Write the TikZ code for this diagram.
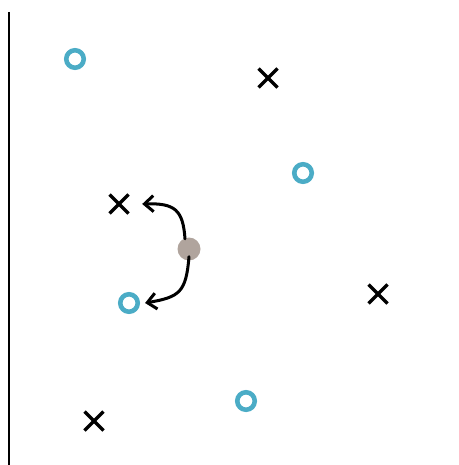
\documentclass[tikz,border=0pt]{standalone}
\usetikzlibrary{arrows.meta}
\definecolor{ringblue}{HTML}{4BACC6}
\definecolor{dotgray}{HTML}{B0A49D}
\tikzset{
  ring/.style={circle,draw=ringblue,line width=4.6pt,minimum size=17.5pt,inner sep=0pt},
  cross/.style={minimum size=24pt,inner sep=0pt,path picture={
     \draw[line width=3.2pt,black] ([shift={(-9.5pt,-9.5pt)}]path picture bounding box.center) -- ([shift={(9.5pt,9.5pt)}]path picture bounding box.center);
     \draw[line width=3.2pt,black] ([shift={(-9.5pt,9.5pt)}]path picture bounding box.center) -- ([shift={(9.5pt,-9.5pt)}]path picture bounding box.center);}},
  gdot/.style={circle,fill=dotgray,minimum size=23pt,inner sep=0pt},
  conn/.style={line width=3pt,-{Straight Barb[length=9pt,width=16pt,line width=3pt]},line cap=round}
}
\begin{document}
\begin{tikzpicture}[x=1pt,y=-1pt]
\useasboundingbox (0,0) rectangle (458,465);
\coordinate (ltop) at (8.5,12);
\coordinate (lbot) at (8.5,465);
\draw[line width=2pt] (ltop) -- (lbot);
\node[ring] (c1) at (75,59) {};
\node[ring] (c2) at (303,173) {};
\node[ring] (c3) at (129,303) {};
\node[ring] (c4) at (246,401) {};
\node[cross] (x1) at (268,78) {};
\node[cross] (x2) at (119,204) {};
\node[cross] (x3) at (378,294) {};
\node[cross] (x4) at (94,421) {};
\node[gdot] (d) at (189,249) {};
\draw[conn] ([shift={(-4pt,-1.5pt)}]d.north) .. controls (183,210) and (175,203) .. ([xshift=11pt]x2.east);
\draw[conn] ([shift={(0pt,4pt)}]d.south) .. controls (186,292) and (180,297) .. ([xshift=5pt]c3.east);
\end{tikzpicture}
\end{document}
